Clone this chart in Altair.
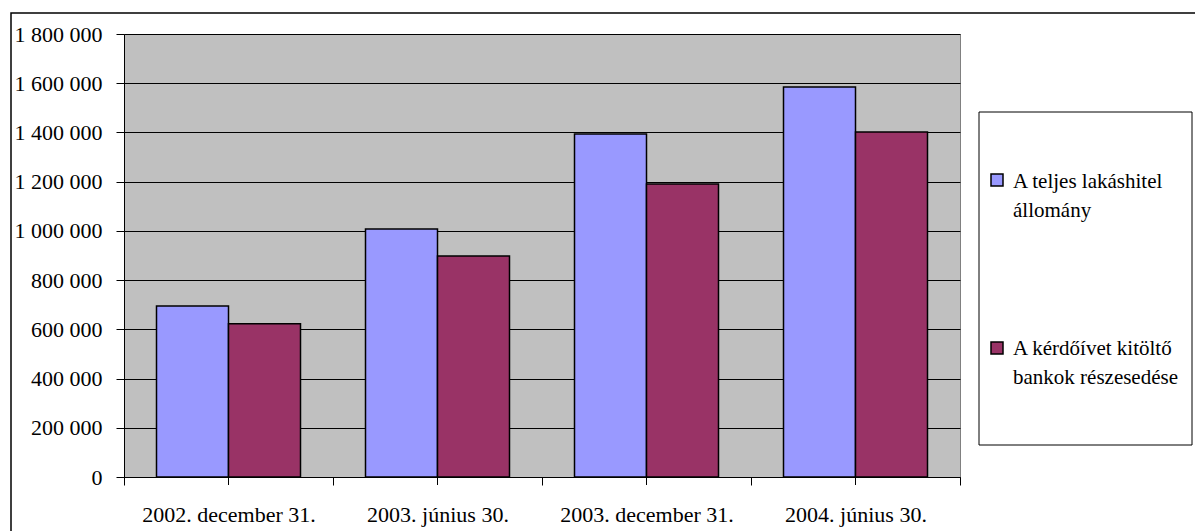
import altair as alt
import pandas as pd

# Reporting dates (categories) and the two series, in forint millions
dates = ["2002. december 31.", "2003. június 30.", "2003. december 31.", "2004. június 30."]
series = ["A teljes lakáshitel állomány", "A kérdőívet kitöltő bankok részesedése"]
legend_labels = ["A teljes lakáshitel\nállomány", "A kérdőívet kitöltő\nbankok részesedése"]
total_stock = [695000, 1008000, 1394000, 1585000]
surveyed_banks = [623000, 898000, 1191000, 1402000]
colors = ["#9999FF", "#993366"]
y_ticks = list(range(0, 1800001, 200000))

FONT = "'Liberation Serif', 'DejaVu Serif', serif"

rows = []
for d, a, b in zip(dates, total_stock, surveyed_banks):
    rows.append({"date": d, "series": series[0], "value": a})
    rows.append({"date": d, "series": series[1], "value": b})
df = pd.DataFrame(rows)
date_df = pd.DataFrame({"date": dates})
legend_df = pd.DataFrame({"series": series, "label": legend_labels})
one = pd.DataFrame({"k": [0]})

color_scale = alt.Scale(domain=series, range=colors)
x_enc = alt.X(
    "date:N",
    sort=dates,
    scale=alt.Scale(paddingInner=0, paddingOuter=0),
    axis=alt.Axis(
        title=None,
        labelAngle=0,
        tickBand="extent",
        tickSize=8,
        tickColor="black",
        domainColor="black",
        labelFont=FONT,
        labelFontSize=22,
        labelColor="black",
        labelPadding=19,
    ),
)

bars = alt.Chart(df).mark_bar(stroke="black", strokeWidth=1.5).encode(
    x=x_enc,
    xOffset=alt.XOffset("series:N", sort=series,
                        scale=alt.Scale(paddingInner=0, paddingOuter=0.4514)),
    y=alt.Y(
        "value:Q",
        scale=alt.Scale(domain=[0, 1800000], nice=False),
        axis=alt.Axis(
            title=None,
            values=y_ticks,
            labelExpr="replace(format(datum.value, ','), /,/g, ' ')",
            tickSize=8,
            tickColor="black",
            domainColor="black",
            grid=True,
            gridColor="black",
            gridOpacity=1,
            gridWidth=1,
            labelFont=FONT,
            labelFontSize=22,
            labelColor="black",
            labelPadding=14,
        ),
    ),
    color=alt.Color("series:N", scale=color_scale, legend=None),
)

# extra ticks in the middle of each category band
mid_ticks = alt.Chart(date_df).mark_rule(color="black", strokeWidth=1).encode(
    x=alt.X("date:N", sort=dates),
    y=alt.value(443),
    y2=alt.value(451),
)

# legend frame
legend_box = alt.Chart(one).mark_rect(fill="white", stroke="black", strokeWidth=1).encode(
    x=alt.value(855), x2=alt.value(1068), y=alt.value(78), y2=alt.value(411)
)

layers = [bars, mid_ticks, legend_box]
for i, (sym_y, txt_y) in enumerate([(146, 154), (314, 321)]):
    item = legend_df.iloc[[i]]
    layers.append(
        alt.Chart(item).mark_point(shape="square", size=144, filled=True, opacity=1,
                                   stroke="black", strokeWidth=1.5).encode(
            x=alt.value(873), y=alt.value(sym_y),
            fill=alt.Color("series:N", scale=color_scale, legend=None),
        )
    )
    layers.append(
        alt.Chart(item).mark_text(align="left", baseline="alphabetic", font=FONT, fontSize=21,
                                  lineHeight=29, lineBreak="\n", color="black").encode(
            x=alt.value(889), y=alt.value(txt_y), text="label:N"
        )
    )

# outer chart frame
frame = alt.Chart(one).mark_rect(fillOpacity=0, stroke="black", strokeWidth=1.5).encode(
    x=alt.value(-113), x2=alt.value(1090), y=alt.value(-21), y2=alt.value(520)
)
layers.append(frame)

chart = alt.layer(*layers).properties(
    width=836,
    height=443,
    autosize="none",
    padding={"left": 124, "top": 34, "right": 235, "bottom": 54},
    background="white",
).configure_view(fill="#C0C0C0", stroke="#808080", strokeWidth=1)

chart.save("out.html", embed_options={"renderer": "svg", "actions": False})
